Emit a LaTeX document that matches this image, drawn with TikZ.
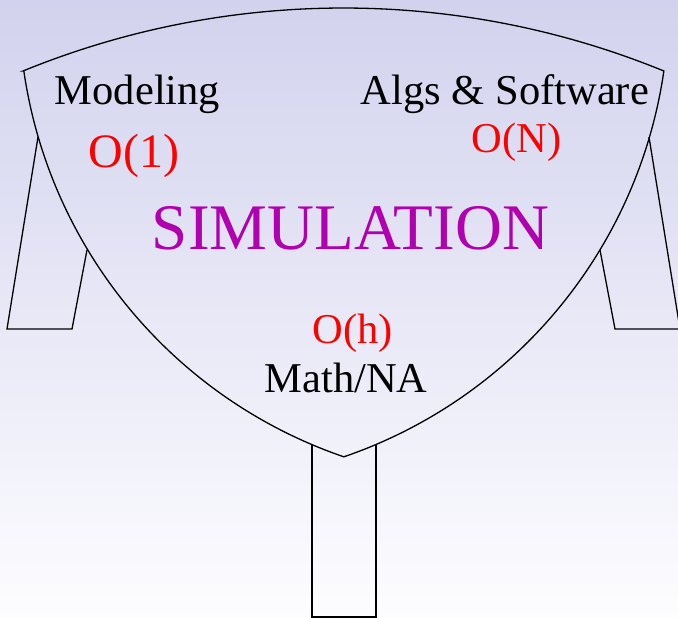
\documentclass[tikz,border=0pt]{standalone}
\usepackage{fontspec}
\setmainfont{Liberation Serif}
\definecolor{bgtop}{RGB}{210,210,238}
\definecolor{bgbot}{RGB}{253,253,255}
\definecolor{simcol}{RGB}{176,0,176}
\tikzset{
  outline/.style={line width=1.3pt, black, line join=miter},
  label/.style={anchor=base, inner sep=0pt, font=\fontsize{42.5}{48}\selectfont},
  order/.style={label, text=red},
}
\begin{document}
\begin{tikzpicture}[x=1pt,y=1pt]
  % page and background
  \shade[top color=bgtop, bottom color=bgbot] (0,0) rectangle (678,-618);
  \useasboundingbox (0,0) rectangle (678,-618);
  \clip (0,0) rectangle (678,-618);

  % corners of the bowl
  \coordinate (tl) at (23,-71);
  \coordinate (tr) at (664,-71);
  \coordinate (bot) at (344,-457);

  % bowl: top arc, right side, left side
  \draw[outline] (tl) arc[start angle=112.24, end angle=67.76, radius=846.7]
    arc[start angle=-8.27, end angle=-71.08, radius=481]
    arc[start angle=-108.92, end angle=-171.73, radius=481] -- cycle;

  % left leg
  \draw[outline] (38,-137) -- (7,-329) -- (72,-329) -- (87,-250);
  % right leg
  \draw[outline] (649,-137) -- (680,-329) -- (615,-329) -- (600,-250);
  % bottom leg
  \draw[outline] (312,-445) -- (312,-617) -- (376,-617) -- (376,-445);

  % labels
  \node[label] (model) at (137.5,-105) {Modeling};
  \node[label] (algs) at (505,-104) {Algs \& Software};
  \node[order, font=\fontsize{48}{54}\selectfont] (o1) at (134,-167) {O(1)};
  \node[order] (oN) at (516.5,-152) {O(N)};
  \node[label, text=simcol, font=\fontsize{65}{72}\selectfont] (sim) at (350.5,-249) {SIMULATION};
  \node[order] (oh) at (352.5,-343) {O(h)};
  \node[label] (math) at (346,-392) {Math/NA};
\end{tikzpicture}
\end{document}
